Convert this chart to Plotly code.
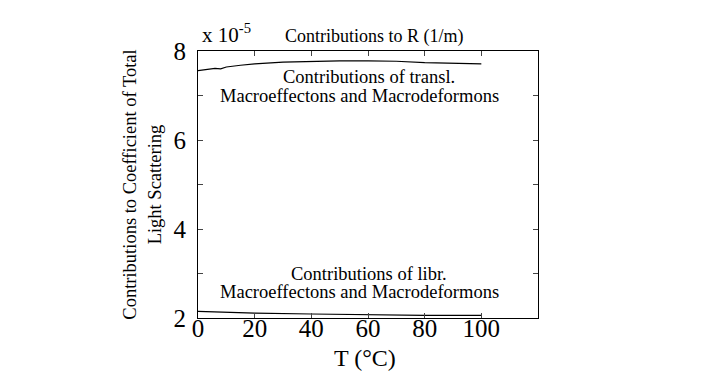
import plotly.graph_objects as go

# temperature (deg C) and contributions (x 1e-5 1/m)
t_transl = [0, 3, 6, 8, 10, 15, 20, 30, 40, 50, 60, 70, 80, 90, 100]
r_transl = [7.56, 7.58, 7.61, 7.60, 7.64, 7.68, 7.71, 7.75, 7.77, 7.78, 7.78, 7.77, 7.74, 7.72, 7.71]

t_libr = [0, 10, 20, 40, 60, 80, 100]
r_libr = [2.15, 2.13, 2.11, 2.09, 2.07, 2.06, 2.06]

x_ticks = [0, 20, 40, 60, 80, 100]
y_ticks = [2, 3, 4, 5, 6, 7, 8]
y_labels = ["2", "", "4", "", "6", "", "8"]

SERIF = '"Liberation Serif", "Times New Roman", serif'

fig = go.Figure()
fig.add_trace(go.Scatter(x=t_transl, y=r_transl, mode="lines",
                         line=dict(color="black", width=1.2), showlegend=False))
fig.add_trace(go.Scatter(x=t_libr, y=r_libr, mode="lines",
                         line=dict(color="black", width=1.2), showlegend=False))

# in-plot labels, one annotation per line to keep the tight line spacing
labels = [
    (60.5, 7.42, "Contributions of transl."),
    (57, 7.0, "Macroeffectons and Macrodeformons"),
    (60.5, 3.0, "Contributions of libr."),
    (57, 2.58, "Macroeffectons and Macrodeformons"),
]
for lx, ly, txt in labels:
    fig.add_annotation(x=lx, y=ly, xref="x", yref="y", text=txt, showarrow=False,
                       font=dict(family=SERIF, size=18.5))

fig.add_annotation(x=0.005, y=1, xref="paper", yref="paper", xanchor="left", yanchor="bottom",
                   text="x 10<sup>-5</sup>", showarrow=False, font=dict(family=SERIF, size=21), yshift=2)
fig.add_annotation(x=0.52, y=1, xref="paper", yref="paper", xanchor="center", yanchor="bottom",
                   text="Contributions to R (1/m)", showarrow=False, font=dict(family=SERIF, size=18), yshift=2)
# x-axis title placed by hand so it stays inside the small bottom margin
fig.add_annotation(x=0.49, y=-0.15, xref="paper", yref="paper", xanchor="center", yanchor="middle",
                   text="T (°C)", showarrow=False, font=dict(family=SERIF, size=24))

fig.update_layout(
    width=705, height=379,
    margin=dict(l=190, r=175, t=43, b=69),
    paper_bgcolor="white", plot_bgcolor="white",
    font=dict(family=SERIF, color="black", size=18),
)
fig.update_xaxes(range=[0, 120], tickvals=x_ticks, ticks="inside", ticklen=5,
                 showline=True, linecolor="black", linewidth=1, mirror="ticks",
                 showgrid=False, zeroline=False, automargin=False,
                 tickfont=dict(family=SERIF, size=25), ticklabelstandoff=-12)
fig.update_yaxes(range=[2, 8], tickvals=y_ticks, ticktext=y_labels, ticks="inside", ticklen=5,
                 showline=True, linecolor="black", linewidth=1, mirror="ticks",
                 showgrid=False, zeroline=False, automargin=False,
                 tickfont=dict(family=SERIF, size=25), ticklabelstandoff=6,
                 title=dict(text="Contributions to Coefficient of Total<br>Light Scattering",
                            font=dict(family=SERIF, size=18.5), standoff=7))

fig.write_html("out.html")
